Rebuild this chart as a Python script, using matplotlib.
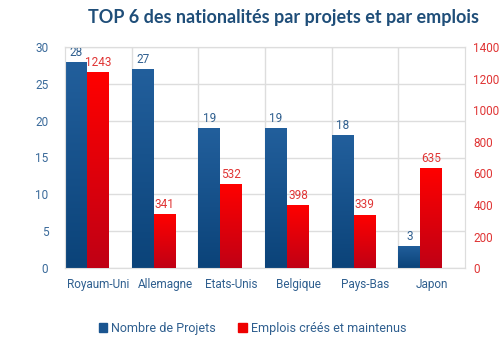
import numpy as np
import matplotlib.pyplot as plt
from matplotlib.colors import LinearSegmentedColormap
from matplotlib.patches import Rectangle

pays = ["Royaum-Uni", "Allemagne", "Etats-Unis", "Belgique", "Pays-Bas", "Japon"]
projets = [28, 27, 19, 19, 18, 3]
emplois = [1243, 341, 532, 398, 339, 635]

plt.rcParams['font.family'] = ['Roboto', 'DejaVu Sans']

fig = plt.figure(figsize=(5, 3.5), dpi=100)
ax = fig.add_axes([0.13, 0.234, 0.80, 0.632])
ax2 = ax.twinx()

cm_bleu = LinearSegmentedColormap.from_list("b", ["#0b4379", "#225f9c"])
cm_rouge = LinearSegmentedColormap.from_list("r", ["#c00015", "#ff0000"])
grad = np.linspace(0, 1, 100).reshape(-1, 1)

w = 0.33

def barre(a, x, h, cmap):
    im = a.imshow(grad, extent=[x, x + w, 0, h], origin="lower", aspect="auto", cmap=cmap, zorder=3)
    r = Rectangle((x, 0), w, h, transform=a.transData, facecolor="none", edgecolor="none")
    a.add_patch(r)
    im.set_clip_path(r)

for i, (p, e) in enumerate(zip(projets, emplois)):
    barre(ax, i, p, cm_bleu)
    ax.text(i + w / 2, p + 0.4, str(p), ha="center", va="bottom", color="#2f5f8f", fontsize=8.5)
    barre(ax2, i + w, e, cm_rouge)
    ax2.text(i + 1.5 * w, e + 20, str(e), ha="center", va="bottom", color="#e03535", fontsize=8.5)

ax.set_aspect("auto")
ax2.set_aspect("auto")
ax.set_xlim(0, len(pays))
ax.set_ylim(0, 30)
ax2.set_ylim(0, 1400)

ax.set_yticks(range(0, 31, 5))
ax2.set_yticks(range(0, 1401, 200))
ax.set_xticks(np.arange(len(pays)) + 0.5)
ax.set_xticklabels(pays, color="#2f5f8f", fontsize=8.5)
ax.tick_params(axis="y", colors="#3a6a9a", labelsize=8.5, length=0, pad=12)
ax2.tick_params(axis="y", colors="#e03535", labelsize=8.5, length=0, pad=6)
ax.tick_params(axis="x", length=0, pad=7)

for yv in range(0, 31, 5):
    ax.axhline(yv, color="#dddddd", lw=1, zorder=0)
for xv in range(1, len(pays)):
    ax.axvline(xv, color="#dddddd", lw=1, zorder=0)
for a in (ax, ax2):
    for s in a.spines.values():
        s.set_color("#dddddd")

fig.text(0.566, 0.95, "TOP 6 des nationalités par projets et par emplois", ha="center", va="center",
         fontsize=13, fontweight="bold", color="#1f4e79", family=["Lato", "DejaVu Sans"])

hb = plt.Rectangle((0, 0), 1, 1, color="#1a5590")
hr = plt.Rectangle((0, 0), 1, 1, color="#ee0000")
fig.legend([hb, hr], ["Nombre de Projets", "Emplois créés et maintenus"], loc="center",
           bbox_to_anchor=(0.505, 0.062), ncol=2, frameon=False, fontsize=9,
           handlelength=0.7, handleheight=0.7, handletextpad=0.3, columnspacing=1.8,
           labelcolor="#2f5f8f")

fig.savefig("out.png", dpi=100)
